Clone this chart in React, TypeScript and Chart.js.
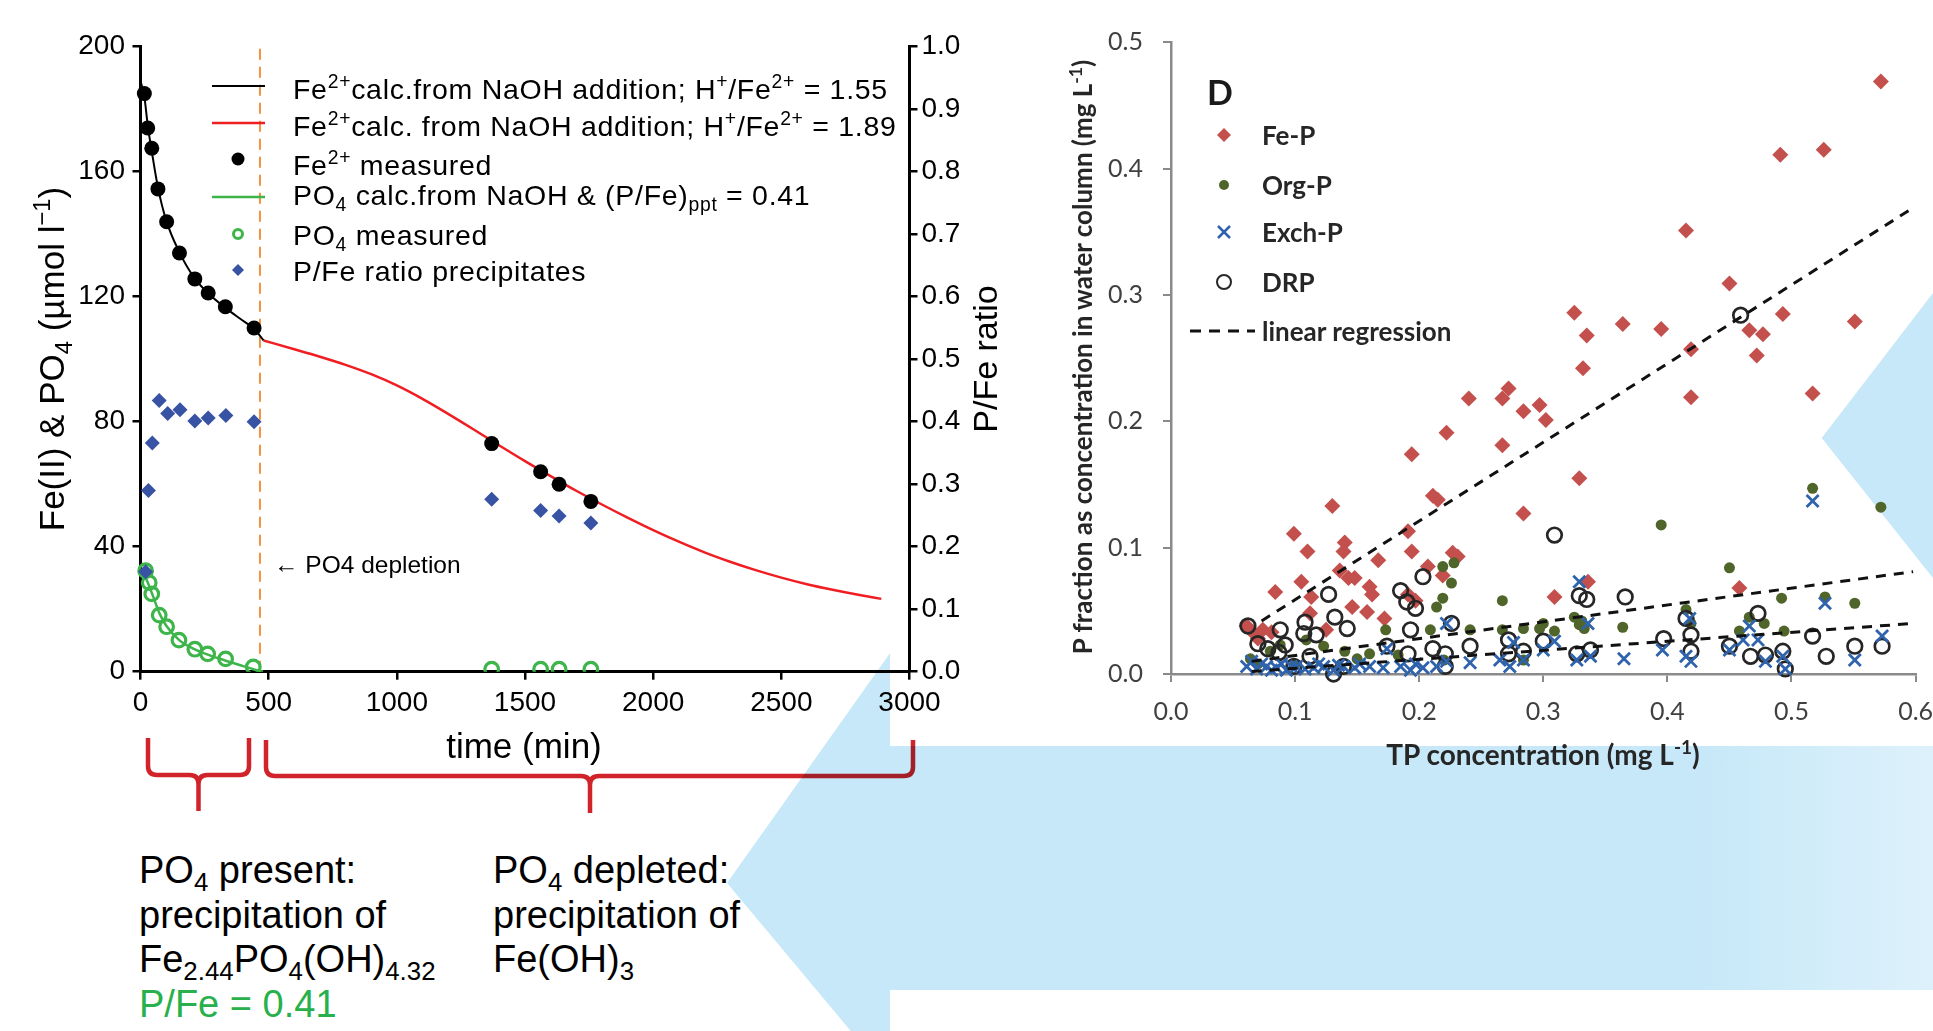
import React, { useEffect, useRef } from 'react';
import { Chart, registerables } from 'chart.js';

Chart.register(...registerables);

// ---------------- Left chart data (time in min) ----------------
const feCalcT = [0, 15, 28, 44, 68, 100, 150, 210, 265, 330, 400, 445, 480];
const feCalcV = [189, 184, 175, 166.5, 155, 144.5, 134.5, 126, 121, 116.5, 112.3, 109.6, 106];
const feRedT = [480, 600, 700, 800, 900, 1000, 1100, 1200, 1300, 1400, 1500, 1600, 1700, 1800, 1900, 2000, 2100, 2200, 2300, 2400, 2500, 2600, 2700, 2800, 2890];
const feRedV = [106, 103.2, 100.8, 98.2, 95.2, 91.6, 87.3, 82.5, 77.5, 72.4, 67.4, 62.6, 57.9, 53.5, 49.3, 45.3, 41.6, 38.2, 35.2, 32.5, 30.1, 28, 26.2, 24.6, 23.3];
const po4CalcT = [0, 20, 45, 75, 100, 150, 210, 265, 330, 400, 440, 478];
const po4CalcV = [32, 30, 25, 18.5, 14.8, 10.2, 7.2, 5.4, 3.6, 1.8, 0.8, 0];
const feMeasT = [15, 28, 44, 68, 102, 152, 212, 264, 331, 443, 1370, 1561, 1633, 1757];
const feMeasV = [185, 174, 167.5, 154.5, 144, 134, 125.7, 121.2, 116.8, 110, 73, 64, 60, 54.5];
const po4MeasT = [20, 34, 44, 73, 102, 150, 212, 262, 332, 440, 1370, 1561, 1633, 1757];
const po4MeasV = [32.3, 28.5, 24.9, 18.1, 14.4, 10.1, 7.2, 5.7, 4.1, 1.5, 0.8, 0.8, 0.8, 0.8];
const pfeT = [20, 31, 46, 73, 106, 154, 212, 264, 333, 443, 1370, 1561, 1633, 1757];
const pfeV = [0.16, 0.29, 0.366, 0.434, 0.413, 0.419, 0.401, 0.406, 0.41, 0.4, 0.276, 0.258, 0.249, 0.238];
const depletionT = [466, 466];
const depletionV = [0, 200];

// ---------------- Right chart data (mg/L) ----------------
const fePX = [0.572, 0.491, 0.526, 0.415, 0.45, 0.325, 0.335, 0.364, 0.395, 0.493, 0.551, 0.466, 0.477, 0.472, 0.419, 0.332, 0.419, 0.517, 0.24, 0.267, 0.272, 0.284, 0.297, 0.302, 0.222, 0.267, 0.194, 0.329, 0.211, 0.215, 0.284, 0.13, 0.099, 0.11, 0.14, 0.139, 0.191, 0.194, 0.167, 0.227, 0.231, 0.207, 0.219, 0.084, 0.105, 0.113, 0.136, 0.143, 0.148, 0.16, 0.162, 0.158, 0.146, 0.172, 0.112, 0.074, 0.061, 0.191, 0.197, 0.125, 0.066, 0.07, 0.081, 0.309, 0.336, 0.458];
const fePY = [0.469, 0.411, 0.415, 0.351, 0.309, 0.286, 0.268, 0.277, 0.273, 0.285, 0.279, 0.272, 0.269, 0.252, 0.257, 0.242, 0.219, 0.222, 0.218, 0.218, 0.226, 0.208, 0.213, 0.201, 0.191, 0.181, 0.174, 0.155, 0.141, 0.138, 0.127, 0.133, 0.111, 0.097, 0.104, 0.097, 0.113, 0.097, 0.09, 0.096, 0.093, 0.085, 0.078, 0.065, 0.073, 0.061, 0.082, 0.076, 0.076, 0.069, 0.063, 0.049, 0.053, 0.044, 0.048, 0.035, 0.038, 0.063, 0.058, 0.035, 0.033, 0.028, 0.033, 0.061, 0.073, 0.068];
const orgPX = [0.064, 0.07, 0.08, 0.088, 0.1, 0.109, 0.123, 0.14, 0.15, 0.16, 0.173, 0.183, 0.209, 0.214, 0.219, 0.219, 0.226, 0.228, 0.22, 0.241, 0.267, 0.267, 0.284, 0.284, 0.297, 0.3, 0.309, 0.325, 0.329, 0.331, 0.333, 0.364, 0.395, 0.415, 0.419, 0.45, 0.458, 0.466, 0.478, 0.492, 0.494, 0.517, 0.527, 0.551, 0.572];
const orgPY = [0.012, 0.008, 0.018, 0.023, 0.008, 0.027, 0.022, 0.018, 0.012, 0.016, 0.035, 0.015, 0.035, 0.053, 0.06, 0.085, 0.072, 0.088, 0.011, 0.035, 0.058, 0.035, 0.036, 0.011, 0.036, 0.04, 0.034, 0.045, 0.039, 0.042, 0.036, 0.037, 0.118, 0.051, 0.04, 0.084, 0.034, 0.045, 0.04, 0.06, 0.034, 0.147, 0.061, 0.056, 0.132];
const exchPX = [0.061, 0.065, 0.069, 0.073, 0.077, 0.081, 0.085, 0.089, 0.093, 0.097, 0.101, 0.108, 0.115, 0.119, 0.123, 0.131, 0.135, 0.139, 0.148, 0.152, 0.16, 0.171, 0.174, 0.185, 0.193, 0.197, 0.203, 0.214, 0.222, 0.222, 0.241, 0.265, 0.273, 0.276, 0.284, 0.3, 0.309, 0.327, 0.329, 0.336, 0.338, 0.365, 0.396, 0.415, 0.418, 0.419, 0.45, 0.461, 0.466, 0.473, 0.479, 0.493, 0.495, 0.517, 0.527, 0.551, 0.573];
const exchPY = [0.006, 0.01, 0.004, 0.008, 0.006, 0.003, 0.005, 0.008, 0.003, 0.006, 0.006, 0.004, 0.005, 0.008, 0.006, 0.003, 0.007, 0.006, 0.005, 0.008, 0.006, 0.005, 0.02, 0.006, 0.003, 0.008, 0.005, 0.006, 0.01, 0.04, 0.009, 0.011, 0.006, 0.025, 0.011, 0.019, 0.026, 0.011, 0.073, 0.04, 0.014, 0.012, 0.019, 0.014, 0.044, 0.01, 0.019, 0.027, 0.038, 0.027, 0.01, 0.014, 0.004, 0.137, 0.056, 0.011, 0.03];
const drpX = [0.062, 0.07, 0.078, 0.087, 0.088, 0.092, 0.099, 0.107, 0.108, 0.112, 0.117, 0.127, 0.131, 0.132, 0.139, 0.142, 0.174, 0.185, 0.19, 0.191, 0.193, 0.197, 0.203, 0.211, 0.221, 0.221, 0.226, 0.241, 0.272, 0.272, 0.284, 0.3, 0.309, 0.327, 0.329, 0.335, 0.338, 0.366, 0.397, 0.415, 0.419, 0.419, 0.45, 0.459, 0.467, 0.473, 0.479, 0.493, 0.495, 0.517, 0.528, 0.551, 0.573];
const drpY = [0.038, 0.024, 0.02, 0.017, 0.035, 0.023, 0.006, 0.032, 0.041, 0.014, 0.031, 0.063, 0.0, 0.045, 0.006, 0.036, 0.022, 0.066, 0.057, 0.016, 0.035, 0.052, 0.077, 0.02, 0.016, 0.006, 0.04, 0.022, 0.027, 0.016, 0.018, 0.026, 0.11, 0.016, 0.062, 0.059, 0.019, 0.061, 0.028, 0.044, 0.031, 0.018, 0.022, 0.284, 0.014, 0.048, 0.015, 0.018, 0.004, 0.03, 0.014, 0.022, 0.022];
const regFeX = [0.073, 0.598];
const regFeY = [0.042, 0.369];
const regUpX = [0.065, 0.598];
const regUpY = [0.01, 0.081];
const regLoX = [0.065, 0.598];
const regLoY = [0.002, 0.04];

const FONT = "'Liberation Sans', Arial, Helvetica, sans-serif";
const RFONT = "Lato, 'Open Sans', sans-serif";

const pts = (xs: number[], ys: number[]) => xs.map((x, i) => ({ x, y: ys[i] }));

const sup: React.CSSProperties = { fontSize: '0.68em', verticalAlign: '0.58em', lineHeight: 0 };
const sub: React.CSSProperties = { fontSize: '0.68em', verticalAlign: '-0.32em', lineHeight: 0 };

function bracePath(L: number, R: number, C: number, top: number, bar: number, tip: number) {
  const r = 9;
  return `M${L},${top} L${L},${bar - r} Q${L},${bar} ${L + r},${bar} L${C - r},${bar} Q${C},${bar} ${C},${bar + r} L${C},${tip} M${C},${bar + r} Q${C},${bar} ${C + r},${bar} L${R - r},${bar} Q${R},${bar} ${R},${bar - r} L${R},${top}`;
}

export default function App() {
  const leftRef = useRef<HTMLCanvasElement | null>(null);
  const rightRef = useRef<HTMLCanvasElement | null>(null);

  useEffect(() => {
    const LW = 1000, LH = 800;
    const tickFont = { family: FONT, size: 28 };
    const left = new Chart(leftRef.current as HTMLCanvasElement, {
      type: 'scatter',
      data: {
        datasets: [
          { data: pts(pfeT, pfeV), yAxisID: 'y2', pointStyle: 'rectRot', pointRadius: 7.5, backgroundColor: '#3953A4', borderWidth: 0, order: 0, clip: false } as any,
          { data: pts(feMeasT, feMeasV), yAxisID: 'y', pointRadius: 7.5, backgroundColor: '#000', borderWidth: 0, order: 1, clip: false } as any,
          { data: pts(po4MeasT, po4MeasV), yAxisID: 'y', pointRadius: 6.8, backgroundColor: 'rgba(0,0,0,0)', borderColor: '#3DB54A', borderWidth: 3.2, order: 2, clip: { left: false, top: false, right: false, bottom: 0 } } as any,
          { data: pts(feCalcT, feCalcV), yAxisID: 'y', showLine: true, pointRadius: 0, borderColor: '#000', borderWidth: 2, cubicInterpolationMode: 'monotone', order: 3, clip: false } as any,
          { data: pts(feRedT, feRedV), yAxisID: 'y', showLine: true, pointRadius: 0, borderColor: '#F01E23', borderWidth: 2.5, cubicInterpolationMode: 'monotone', order: 3 } as any,
          { data: pts(po4CalcT, po4CalcV), yAxisID: 'y', showLine: true, pointRadius: 0, borderColor: '#3DB54A', borderWidth: 2.5, cubicInterpolationMode: 'monotone', order: 3 } as any,
          { data: pts(depletionT, depletionV), yAxisID: 'y', showLine: true, pointRadius: 0, borderColor: '#F0923E', borderWidth: 2, borderDash: [11, 7], order: 4 } as any,
        ],
      },
      options: {
        responsive: false,
        animation: false,
        devicePixelRatio: 1,
        layout: { padding: { left: 0, top: 46.7, right: 0, bottom: 0 }, autoPadding: false } as any,
        plugins: { legend: { display: false }, tooltip: { enabled: false } },
        scales: {
          x: {
            type: 'linear', position: 'bottom', min: 0, max: 3000,
            ticks: { stepSize: 500, color: '#000', font: tickFont, padding: 7, maxRotation: 0, autoSkip: false, callback: (v: any) => String(v) },
            grid: { drawOnChartArea: false, drawTicks: true, tickLength: 8, color: '#000', lineWidth: 2.5 },
            border: { display: true, color: '#000', width: 3 },
            afterFit: (s: any) => { s.height = LH - 671.7; },
          },
          y: {
            type: 'linear', position: 'left', min: 0, max: 200,
            ticks: { stepSize: 40, color: '#000', font: tickFont, padding: 7.5 },
            grid: { drawOnChartArea: false, drawTicks: true, tickLength: 8, color: '#000', lineWidth: 2.5 },
            border: { display: true, color: '#000', width: 3 },
            afterFit: (s: any) => { s.width = 140.5; },
          },
          y2: {
            type: 'linear', position: 'right', min: 0, max: 1,
            ticks: { stepSize: 0.1, color: '#000', font: tickFont, padding: 4, callback: (v: any) => Number(v).toFixed(1) },
            grid: { drawOnChartArea: false, drawTicks: true, tickLength: 8, color: '#000', lineWidth: 2.5 },
            border: { display: true, color: '#000', width: 3 },
            afterFit: (s: any) => { s.width = LW - 909.5; },
          },
        } as any,
      },
    });

    const RW = 1100, RH = 800;
    const right = new Chart(rightRef.current as HTMLCanvasElement, {
      type: 'scatter',
      data: {
        datasets: [
          { data: pts(regFeX, regFeY), showLine: true, pointRadius: 0, borderColor: '#111', borderWidth: 3, borderDash: [10, 8], order: 0, clip: false } as any,
          { data: pts(regUpX, regUpY), showLine: true, pointRadius: 0, borderColor: '#111', borderWidth: 3, borderDash: [10, 8], order: 0, clip: false } as any,
          { data: pts(regLoX, regLoY), showLine: true, pointRadius: 0, borderColor: '#111', borderWidth: 3, borderDash: [10, 8], order: 0, clip: false } as any,
          { data: pts(exchPX, exchPY), pointStyle: 'crossRot', pointRadius: 8.5, borderColor: '#2F63AC', borderWidth: 2.8, order: 1, clip: false } as any,
          { data: pts(drpX, drpY), pointRadius: 7.3, backgroundColor: 'rgba(0,0,0,0)', borderColor: '#262626', borderWidth: 2.7, order: 2, clip: false } as any,
          { data: pts(orgPX, orgPY), pointRadius: 5.5, backgroundColor: '#50652A', borderWidth: 0, order: 3, clip: false } as any,
          { data: pts(fePX, fePY), pointStyle: 'rectRot', pointRadius: 8, backgroundColor: '#C4504D', borderWidth: 0, order: 4, clip: false } as any,
        ],
      },
      options: {
        responsive: false,
        animation: false,
        devicePixelRatio: 1,
        layout: { padding: { left: 0, top: 42.3, right: RW - 1025.6, bottom: 0 }, autoPadding: false } as any,
        plugins: { legend: { display: false }, tooltip: { enabled: false } },
        scales: {
          x: {
            type: 'linear', position: 'bottom', min: 0, max: 0.6,
            ticks: { stepSize: 0.1, color: '#404040', font: { family: RFONT, size: 25 }, padding: 15, maxRotation: 0, autoSkip: false, callback: (v: any) => Number(v).toFixed(1) },
            grid: { drawOnChartArea: false, drawTicks: true, tickLength: 8, color: '#8A8A8A', lineWidth: 2 },
            border: { display: true, color: '#8A8A8A', width: 2.5 },
            afterFit: (s: any) => { s.height = RH - 674; },
          },
          y: {
            type: 'linear', position: 'left', min: 0, max: 0.5,
            ticks: { stepSize: 0.1, color: '#404040', font: { family: RFONT, size: 25 }, padding: 20, callback: (v: any) => Number(v).toFixed(1) },
            grid: { drawOnChartArea: false, drawTicks: true, tickLength: 8, color: '#8A8A8A', lineWidth: 2 },
            border: { display: true, color: '#8A8A8A', width: 2.5 },
            afterFit: (s: any) => { s.width = 1171 - 890; },
          },
        } as any,
      },
    });

    return () => { left.destroy(); right.destroy(); };
  }, []);

  const legRow = (center: number): React.CSSProperties => ({
    position: 'absolute', left: 293, top: center - 17, height: 34, lineHeight: '34px',
    fontFamily: FONT, fontSize: 28.5, letterSpacing: '0.7px', whiteSpace: 'nowrap', color: '#000',
  });
  const botLine = (x: number, baseline: number, color = '#000'): React.CSSProperties => ({
    position: 'absolute', left: x, top: baseline - 32.2, height: 38, lineHeight: '38px',
    fontFamily: FONT, fontSize: 38, whiteSpace: 'nowrap', color,
  });
  const rLeg = (center: number): React.CSSProperties => ({
    position: 'absolute', left: 1262, top: center - 16, height: 32, lineHeight: '32px',
    fontFamily: RFONT, fontWeight: 700, fontSize: 26, whiteSpace: 'nowrap', color: '#262626',
  });

  return (
    <div style={{ position: 'absolute', left: 0, top: 0, width: 1933, height: 1031, overflow: 'hidden', background: '#fff', isolation: 'isolate' }}>
      <svg width={1933} height={1031} style={{ position: 'absolute', left: 0, top: 0 }}>
        <defs>
          <linearGradient id="bandGrad" x1="890" y1="0" x2="1933" y2="0" gradientUnits="userSpaceOnUse">
            <stop offset="0" stopColor="#C7E8F8" />
            <stop offset="0.78" stopColor="#C7E8F8" />
            <stop offset="1" stopColor="#DDF1FB" />
          </linearGradient>
        </defs>
        <polygon points="727,883 1000,498 1933,498 1933,990 890,990 890,1078" fill="url(#bandGrad)" />
        <rect x={890} y={0} width={1043} height={746} fill="#fff" />
        <polygon points="1933,293 1821.7,438 1933,578" fill="#C7E8F8" />
      </svg>

      <canvas ref={leftRef} width={1000} height={800} style={{ position: 'absolute', left: 0, top: 0, width: 1000, height: 800 }} />
      <canvas ref={rightRef} width={1100} height={800} style={{ position: 'absolute', left: 890, top: 0, width: 1100, height: 800 }} />

      {/* Left chart legend symbols */}
      <svg width={1000} height={800} style={{ position: 'absolute', left: 0, top: 0, pointerEvents: 'none' }}>
        <line x1={212} y1={86} x2={265} y2={86} stroke="#000" strokeWidth={2} />
        <line x1={212} y1={123} x2={265} y2={123} stroke="#F01E23" strokeWidth={2.5} />
        <circle cx={238} cy={159} r={6.5} fill="#000" />
        <line x1={212} y1={197} x2={265} y2={197} stroke="#3DB54A" strokeWidth={2.5} />
        <circle cx={238} cy={234} r={4.5} fill="none" stroke="#3DB54A" strokeWidth={3} />
        <polygon points="238,264 244,270 238,276 232,270" fill="#3953A4" />
      </svg>
      <div style={legRow(89)}>Fe<sup style={sup}>2+</sup>calc.from NaOH addition; H<sup style={sup}>+</sup>/Fe<sup style={sup}>2+</sup> = 1.55</div>
      <div style={legRow(126)}>Fe<sup style={sup}>2+</sup>calc. from NaOH addition; H<sup style={sup}>+</sup>/Fe<sup style={sup}>2+</sup> = 1.89</div>
      <div style={legRow(165)}>Fe<sup style={sup}>2+</sup> measured</div>
      <div style={legRow(195)}>PO<sub style={sub}>4</sub> calc.from NaOH &amp; (P/Fe)<sub style={sub}>ppt</sub> = 0.41</div>
      <div style={legRow(235)}>PO<sub style={sub}>4</sub> measured</div>
      <div style={legRow(271)}>P/Fe ratio precipitates</div>

      <div style={{ position: 'absolute', left: 274, top: 565 - 14, height: 28, lineHeight: '28px', fontFamily: FONT, fontSize: 24.5, whiteSpace: 'nowrap' }}>← PO4 depletion</div>

      {/* Left chart axis titles */}
      <div style={{ position: 'absolute', left: 52, top: 359, transform: 'translate(-50%, -50%) rotate(-90deg)', fontFamily: FONT, fontSize: 35, lineHeight: '40px', whiteSpace: 'nowrap' }}>
        Fe(II) &amp; PO<sub style={sub}>4</sub> (µmol l<sup style={sup}>−1</sup>)
      </div>
      <div style={{ position: 'absolute', left: 985, top: 359, transform: 'translate(-50%, -50%) rotate(-90deg)', fontFamily: FONT, fontSize: 34, lineHeight: '38px', whiteSpace: 'nowrap' }}>
        P/Fe ratio
      </div>
      <div style={{ position: 'absolute', left: 524, top: 746, transform: 'translate(-50%, -50%)', fontFamily: FONT, fontSize: 35, lineHeight: '40px', whiteSpace: 'nowrap' }}>
        time (min)
      </div>

      {/* Right chart legend */}
      <svg width={1933} height={800} style={{ position: 'absolute', left: 0, top: 0, pointerEvents: 'none' }}>
        <polygon points="1224,128 1231,135 1224,142 1217,135" fill="#C4504D" />
        <circle cx={1224} cy={185} r={5} fill="#50652A" />
        <line x1={1218} y1={226} x2={1230} y2={238} stroke="#2F63AC" strokeWidth={2.5} />
        <line x1={1230} y1={226} x2={1218} y2={238} stroke="#2F63AC" strokeWidth={2.5} />
        <circle cx={1224} cy={282} r={7} fill="none" stroke="#262626" strokeWidth={2} />
        <line x1={1190} y1={331} x2={1255} y2={331} stroke="#111" strokeWidth={3} strokeDasharray="11 8" />
      </svg>
      <div style={{ position: 'absolute', left: 1207, top: 92 - 20, height: 40, lineHeight: '40px', fontFamily: RFONT, fontWeight: 700, fontSize: 34, color: '#1a1a1a' }}>D</div>
      <div style={rLeg(135)}>Fe-P</div>
      <div style={rLeg(185)}>Org-P</div>
      <div style={rLeg(232)}>Exch-P</div>
      <div style={rLeg(282)}>DRP</div>
      <div style={rLeg(331)}>linear regression</div>

      {/* Right chart axis titles */}
      <div style={{ position: 'absolute', left: 1082, top: 357, transform: 'translate(-50%, -50%) rotate(-90deg)', fontFamily: RFONT, fontWeight: 700, fontSize: 26, lineHeight: '30px', whiteSpace: 'nowrap', color: '#262626' }}>
        P fraction as concentration in water column (mg L<sup style={sup}>-1</sup>)
      </div>
      <div style={{ position: 'absolute', left: 1543, top: 754, transform: 'translate(-50%, -50%)', fontFamily: RFONT, fontWeight: 700, fontSize: 28, lineHeight: '32px', whiteSpace: 'nowrap', color: '#262626' }}>
        TP concentration (mg L<sup style={sup}>-1</sup>)
      </div>

      {/* Bottom annotations */}
      <div style={botLine(139, 883)}>PO<sub style={sub}>4</sub> present:</div>
      <div style={botLine(139, 928)}>precipitation of</div>
      <div style={botLine(139, 972)}>Fe<sub style={sub}>2.44</sub>PO<sub style={sub}>4</sub>(OH)<sub style={sub}>4.32</sub></div>
      <div style={botLine(139, 1017, '#27B04B')}>P/Fe = 0.41</div>
      <div style={botLine(493, 883)}>PO<sub style={sub}>4</sub> depleted:</div>
      <div style={botLine(493, 928)}>precipitation of</div>
      <div style={botLine(493, 972)}>Fe(OH)<sub style={sub}>3</sub></div>

      {/* Braces */}
      <svg width={1933} height={1031} style={{ position: 'absolute', left: 0, top: 0, pointerEvents: 'none', mixBlendMode: 'multiply' }}>
        <path d={bracePath(148, 249, 198.5, 738, 775, 811)} fill="none" stroke="#D1232A" strokeWidth={4.5} strokeLinejoin="round" />
        <path d={bracePath(266, 913, 590, 740, 776, 813)} fill="none" stroke="#D1232A" strokeWidth={4.5} strokeLinejoin="round" />
      </svg>
    </div>
  );
}
